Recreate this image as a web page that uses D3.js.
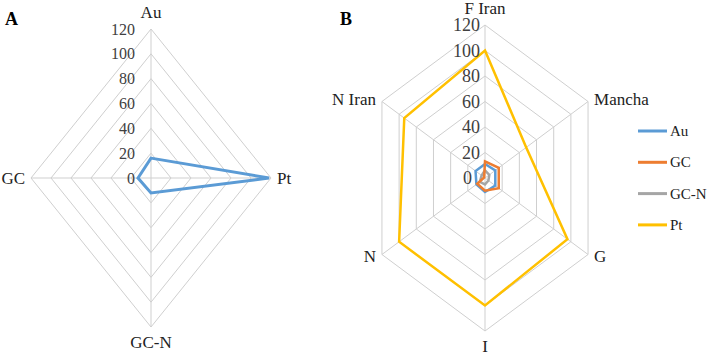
<!DOCTYPE html>
<html>
<head>
<meta charset="utf-8">
<script src="https://cdn.jsdelivr.net/npm/d3@7"></script>
<style>
  body { margin: 0; background: #fff; }
  svg { display: block; font-family: "Liberation Serif", "Times New Roman", serif; }
</style>
</head>
<body>
<svg id="chart" width="708" height="355"></svg>
<script>
// panel A
var axesA = ['Au', 'Pt', 'GC-N', 'GC'];
var auA = [16, 118, 12, 13];

// panel B
var axesB = ['F Iran', 'Mancha', 'G', 'I', 'N', 'N Iran'];
var auB = [11, 12, 12, 11, 10, 11];
var gcB = [13, 16, 16, 10, 9, 1];
var gcnB = [6, 5, 4, 5, 6, 4];
var ptB = [100, 48, 96, 100, 100, 94];

var ticks = [0, 20, 40, 60, 80, 100, 120];
var seriesNames = ['Au', 'GC', 'GC-N', 'Pt'];
var colors = ['#5b9bd5', '#ed7d31', '#a5a5a5', '#ffc000'];

var svg = d3.select('#chart');

// draw one radar panel
function radar(opt) {
    var g = svg.append('g');
    var n = opt.axes.length;
    var sx = d3.scaleLinear().domain([0, 120]).range([0, opt.rx]);
    var sy = d3.scaleLinear().domain([0, 120]).range([0, opt.ry]);
    var ang = d3.scaleLinear().domain([0, n]).range([0, 2 * Math.PI]);

    function pt(i, v) {
        var a = ang(i);
        return [opt.cx + Math.sin(a) * sx(v), opt.cy - Math.cos(a) * sy(v)];
    }

    // rings
    g.selectAll('.ring')
        .data(ticks.slice(1))
        .enter().append('polygon')
        .attr('points', t => d3.range(n).map(i => pt(i, t).join(',')).join(' '))
        .style('fill', 'none')
        .style('stroke', '#cfcfcf')
        .style('stroke-width', 1);

    // spokes
    g.selectAll('.spoke')
        .data(d3.range(n))
        .enter().append('line')
        .attr('x1', opt.cx).attr('y1', opt.cy)
        .attr('x2', i => pt(i, 120)[0])
        .attr('y2', i => pt(i, 120)[1])
        .style('stroke', '#cfcfcf')
        .style('stroke-width', 1);

    // series
    var line = d3.line().curve(d3.curveLinearClosed);
    opt.series.forEach(function (s) {
        g.append('path')
            .attr('d', line(s.values.map((v, i) => pt(i, v))))
            .style('fill', 'none')
            .style('stroke', s.color)
            .style('stroke-width', opt.lw)
            .style('stroke-linejoin', 'miter');
    });

    // tick labels
    g.selectAll('.tick')
        .data(ticks)
        .enter().append('text')
        .attr('x', t => opt.cx - opt.tickGap - (t === 0 ? opt.zeroShift : 0))
        .attr('y', t => opt.cy - sy(t))
        .attr('text-anchor', 'end')
        .attr('dominant-baseline', 'central')
        .style('font-size', opt.tickSize + 'px')
        .style('fill', '#404040')
        .text(t => t);

    // axis labels
    g.selectAll('.axlabel')
        .data(opt.axes)
        .enter().append('text')
        .each(function (d, i) {
            var a = ang(i), s = Math.sin(a), c = Math.cos(a);
            var p = pt(i, 120);
            var el = d3.select(this);
            if (Math.abs(s) < 0.1) {
                el.attr('x', p[0]).attr('y', p[1] - c * (c > 0 ? 17 : 15)).attr('text-anchor', 'middle');
            } else {
                el.attr('x', p[0] + (s > 0 ? 6 : -6)).attr('y', p[1] - c * 4)
                  .attr('text-anchor', s > 0 ? 'start' : 'end');
            }
        })
        .attr('dominant-baseline', 'central')
        .style('font-size', '17px')
        .style('fill', '#222')
        .text(d => d);

    // panel letter
    g.append('text')
        .attr('x', opt.letterX).attr('y', 25)
        .style('font-size', '18px')
        .style('font-weight', 'bold')
        .text(opt.letter);
}

radar({
    axes: axesA, cx: 151, cy: 178, rx: 120, ry: 149, lw: 3,
    tickGap: 16, zeroShift: 0, tickSize: 16, letter: 'A', letterX: 5,
    series: [{ values: auA, color: colors[0] }]
});

radar({
    axes: axesB, cx: 485, cy: 178, rx: 119, ry: 153, lw: 2.5,
    tickGap: 5, zeroShift: 8, tickSize: 18, letter: 'B', letterX: 340,
    series: [
        { values: gcnB, color: colors[2] },
        { values: auB, color: colors[0] },
        { values: gcB, color: colors[1] },
        { values: ptB, color: colors[3] }
    ]
});

// legend
var legend = svg.append('g').selectAll('g')
    .data(seriesNames)
    .enter().append('g')
    .attr('transform', (d, i) => 'translate(638,' + (131 + i * 31.3) + ')');

legend.append('line')
    .attr('x1', 0).attr('x2', 29)
    .style('stroke', (d, i) => colors[i])
    .style('stroke-width', 3);

legend.append('text')
    .attr('x', 32)
    .attr('dominant-baseline', 'central')
    .style('font-size', '15px')
    .style('fill', '#222')
    .text(d => d);
</script>
</body>
</html>
